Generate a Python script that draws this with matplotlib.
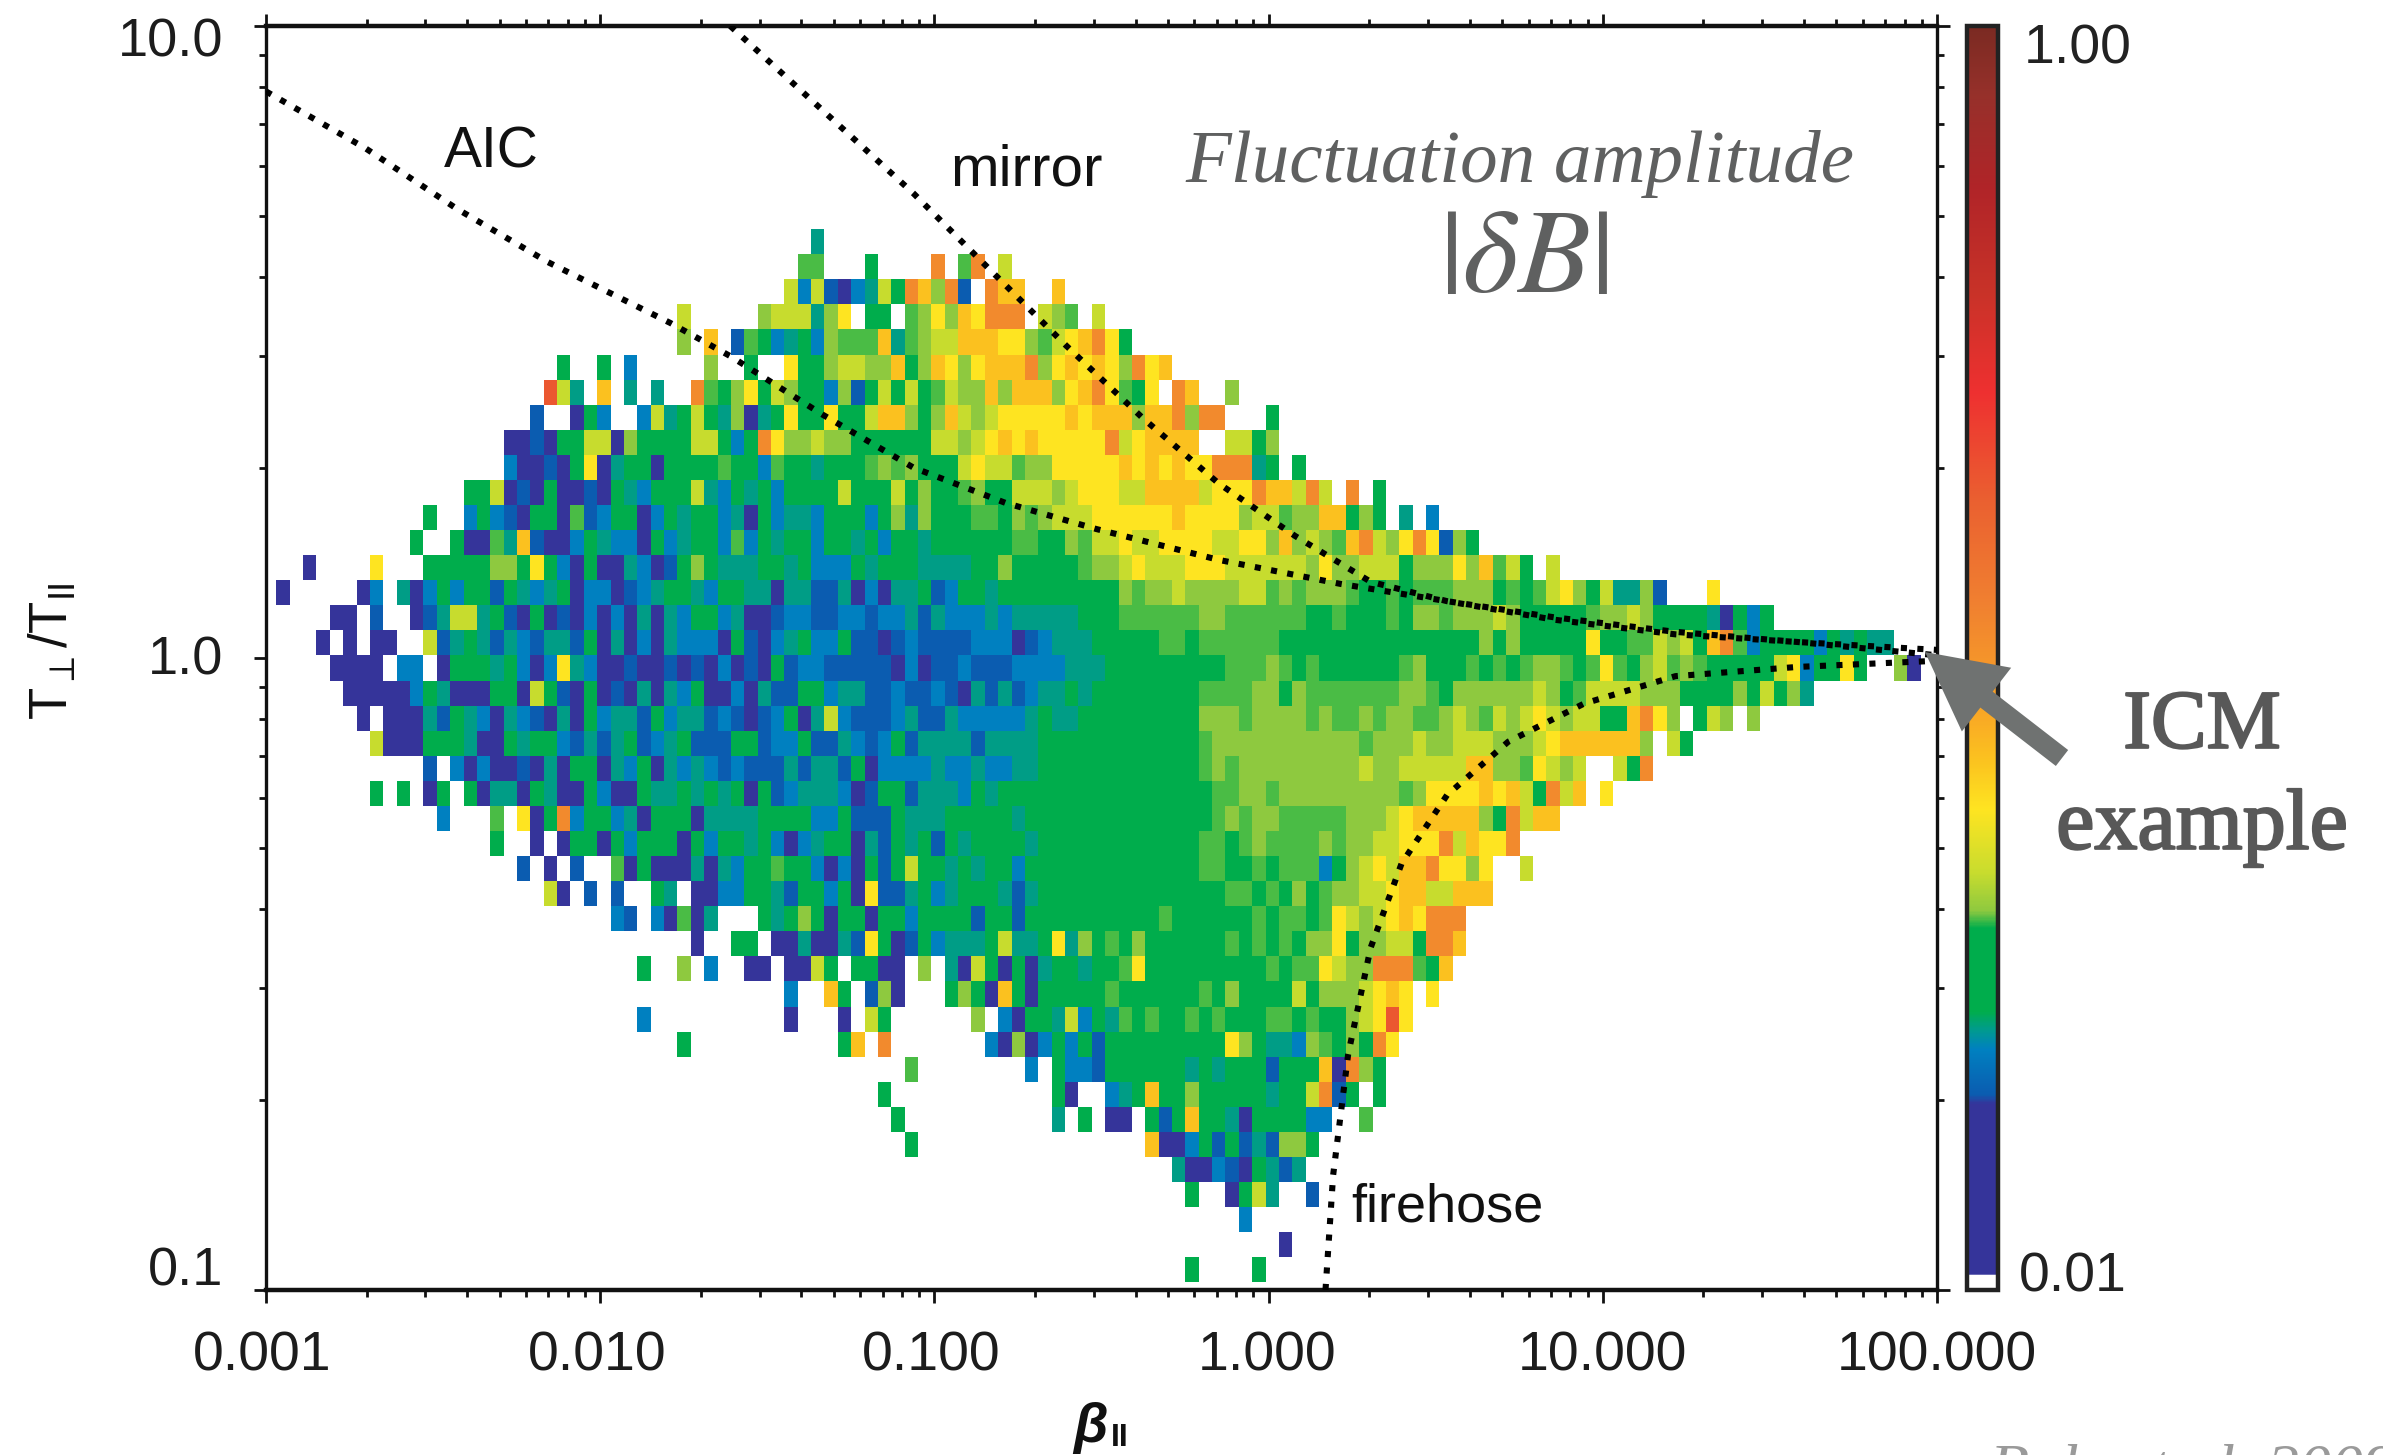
import numpy as np
import matplotlib
matplotlib.use("Agg")
import matplotlib.pyplot as plt
import matplotlib.patheffects as pe
from matplotlib.colors import LinearSegmentedColormap, LogNorm
from matplotlib.transforms import ScaledTranslation
from matplotlib.ticker import FixedLocator, NullFormatter

W, H = 2383, 1455
plt.rcParams['font.family'] = ['Liberation Sans', 'DejaVu Sans']
plt.rcParams['mathtext.fontset'] = 'custom'
plt.rcParams['mathtext.rm'] = 'Liberation Sans'
plt.rcParams['mathtext.it'] = 'Liberation Sans:italic'
plt.rcParams['mathtext.bf'] = 'Liberation Sans:bold'

# Colour scale: (fraction of bar height, colour)
CBAR_STOPS = [(0.0, '#ffffff'), (0.011, '#ffffff'), (0.012, '#35349a'), (0.147, '#35349a'),
              (0.154, '#0b5cb0'), (0.19, '#0080c0'), (0.205, '#009a90'), (0.22, '#00ad4c'),
              (0.286, '#00ad4c'), (0.30, '#8ec93f'), (0.33, '#c8dc2e'), (0.38, '#fee421'),
              (0.418, '#fbc31f'), (0.455, '#f9a825'), (0.543, '#f08030'), (0.624, '#ea6030'),
              (0.71, '#ee3030'), (0.79, '#c83228'), (0.873, '#b02428'), (0.946, '#96302a'),
              (1.0, '#7a2a22')]

# Cell amplitude classes, by their position on the colour bar
LEVEL_CODES = 'dbctgmlhyaor'
LEVEL_FRACTIONS = [0.08, 0.155, 0.19, 0.208, 0.25, 0.293, 0.30, 0.33, 0.38, 0.42, 0.52, 0.64]

# Rows counted from the top of the panel; each entry is (first column, cell classes)
CELLS_BY_ROW = {
    8: [(41, "t")],
    9: [(40, "mm"), (45, "g"), (50, "o"), (52, "mo"), (55, "h")],
    10: [(39, "hchbd cthgo alob"), (54, "oaa"), (59, "a")],
    11: [(31, "h"), (37, "lhhhtly"), (45, "gg"), (48, "mlylayooo"), (58, "hlm"), (62, "h")],
    12: [(31, "l"), (33, "a"), (35, "bmgct gclmm matml hhaaa yylmh yaoyg")],
    13: [(22, "g"), (25, "g"), (27, "c"), (33, "l"), (36, "g"), (39, "yggl hhlla glayl yaaao lyaya yloya")],
    14: [(21, "rht"), (25, "a"), (27, "t"), (29, "t"), (32, "omgly ghlgg clbgh ghgmh llala aalya oymgy"), (68, "oa"), (72, "l")],
    15: [(20, "b"), (23, "dgc"), (28, "chtgh gtldt gyggy gghaa lglah lhyyy yyaya aalaa olo o"), (75, "g")],
    16: [(18, "ddbdg ghhdl ggggh hgcgo yllhl lgggg gghhl hyaya yyyyy ohyaa aa"), (72, "hhgl")],
    17: [(18, "cddbd gydtg gdggg gmggc mggtg ggmlm lgggh yhhml lyyyy yayay ayyoo otg"), (77, "g")],
    18: [(15, "gghdb dgddb dgtcg gghtc gtgcg gggh"), (44, "ggghg lggml gghhh lhyyy hhaaa ahyyy oaahoh"), (81, "o"), (83, "g")],
    19: [(12, "g"), (15, "cgcbd ggdmb cggdc gtggc tdgc"), (39, "ttcgg gcglt lgggm mglml hhhyy yyyya yyyyl hhml"),
         (78, "laaglg"), (85, "t"), (87, "c")],
    20: [(11, "g"), (14, "gddmt abddc gtccd gctgg cmcgt"), (39, "ggcgg tgcgg tgggg ggmmg glmhh yhhyy yyhhy ylal"),
         (78, "hlmao hlyoy blg")],
    21: [(3, "d"), (8, "y"), (12, "ggggg llgyg cdgdd tcdbg lgttt gg"), (39, "tgccc gtggg ttttg glggg ggmll hyhhh yyyhh hhhh"),
         (78, "lyllh hhgll lylam hg"), (96, "h")],
    22: [(1, "d"), (7, "dc"), (10, "tdcgc ggbgt ctgdc cdbct ggtcg gttd"), (39, "ttbbt dcdtt gbcgg tgggg ggggg lmllh llllh hmlm"),
         (78, "lllmg gmgmm mlllg mgmhy lghtt lb"), (108, "y")],
    23: [(5, "dd"), (8, "b"), (11, "dbthh tgbdg dbdcd cdtdt cggct ddb"), (39, "ccbbc cbcct btccc tcttt ttggg mmmmm mllmm mmmm"),
         (78, "ggmgg gmgll mlllh lgggg gmllh lgggg tdgcg")],
    24: [(4, "d"), (6, "d"), (8, "dd"), (12, "hbtgt btcbt tbgdt dcdtc ccdgb dc"), (39, "tgccg bbdbc bbbbc ccdbc tttgg gggmm gmmmm mmgg"),
         (78, "ggggg ggggg ggglg lgggg gyggm mhlhg aomcg gggcg tgtt")],
    25: [(5, "dddd"), (10, "cc"), (13, "dgggt gcdcy tcddb ddbdb dcdbd g"), (39, "bccbb bbbdc dbbcb bbccc ctttg ggggg gggmm mlmg"),
         (78, "mgggg ggmlg ggmgm gmllm gmymg lhmlm ggggg hycgg yg"), (122, "ld")],
    26: [(6, "ddddd cgtdd dggdh gbdgd bdtdt cgddc dtb"), (39, "bggct tbbcb bcbdt btbct tgtgg ggggg gmmmm llgl"),
         (78, "mmmmm mmllm gllll llhlg mhhhh lllgg gglgh glt")],
    27: [(7, "d"), (9, "dddtb gtcdt cbdtd gcttb gcttb cbdbc"), (39, "gdthc bbbct bbtcc ccctg ttggg ggggg glllm llll"),
         (78, "mlmml mllmm lhlmh lhyhl hhgga oyl"), (107, "ghl"), (111, "l")],
    28: [(8, "hdddg ggtdd gtggc btbtg bctgb bbggb c"), (39, "cgbbt cbcgb ttttb ttttg ggggg ggggg gmlll llll"),
         (78, "llllm lllhl lhhhl llhya aaaaa l"), (105, "hg")],
    29: [(12, "b"), (14, "cdcdd bdtdg gdtcg dtctc bcbbb"), (39, "tbttb gdccc ctcct ccttg ggggg ggggg gmlml llll"),
         (78, "llllh llhhh hhaal lmyhl h"), (101, "hgo")],
    30: [(8, "g"), (10, "g"), (12, "dg"), (15, "gdttd gtddg cddgt tgtgt gdgb"), (39, "ctttc dbggb tttcg tgggg ggggg ggggg ggmml lmll"),
         (78, "lllll llmly yyyay ahgoh a"), (100, "y")],
    31: [(13, "c"), (17, "m"), (19, "ydgoc ggctd gggdt tttgg"), (39, "ggccg bbbgt ttggg ggtgg ggggg ggggg ggmlm llmm"),
         (78, "mmmll lhyaa aaalg ohaa")],
    32: [(17, "g"), (20, "d"), (22, "dggdg cgggd gcggt gc"), (39, "dctgg dtbgt gbgtg gggtg ggggg ggggg gmmgm lmmm"),
         (78, "mlmll hhyyy ohayy o")],
    33: [(19, "b"), (21, "d"), (23, "b"), (26, "mdgdd dtdtc ggm"), (39, "ggcdc dgbgh ggtgt ggcgg ggggg ggggg gmmgg mgmm"),
         (78, "mcglh yhaao yyly"), (94, "h")],
    34: [(21, "hd"), (24, "b"), (26, "b"), (29, "gt"), (32, "ddccg gt"), (39, "bggcg dybbt gctgg gtbtg ggggg ggggg gggmm gmgl"),
         (78, "gmllh hyaah haaa")],
    35: [(26, "cb"), (29, "cdmdt"), (37, "gt"), (39, "glgdg gdggc ggggb ggbgg ggggg gggmg ggggg mgmm"),
         (78, "gmyhl hyayo oo")],
    36: [(32, "d"), (35, "gg"), (38, "d"), (39, "dtddt bygdb gcttt ghttg ytlgm glggg gggmg mgmg"),
         (78, "llygl lhhgo oa")],
    37: [(28, "g"), (31, "l"), (33, "c"), (36, "dd"), (39, "ddhg"), (44, "ggdd"), (49, "l"), (51, "tdhgd gdtgg tggmy ggggg ggggm gml"),
         (78, "myhll ooomg a")],
    38: [(39, "c"), (42, "ag"), (45, "bld"), (51, "glgda gdggg ggmgg ggggm glggg gh"), (78, "glllh yay"), (87, "y")],
    39: [(28, "c"), (39, "d"), (43, "d"), (45, "hg"), (53, "l"), (55, "cdggt hcgtm gmggm gmggg mmg"), (78, "mgglh yry")],
    40: [(31, "g"), (43, "ga"), (46, "o"), (54, "cdldc gcgbg ggggg gggg"), (72, "ylgtt clmgl goy")],
    41: [(48, "m"), (57, "c"), (59, "gccb"), (63, "ggggg gtgtg ggbgg gadol g")],
    42: [(46, "g"), (59, "gd"), (63, "ctgag glggg ggtgg hobg"), (83, "g")],
    43: [(47, "g"), (59, "t"), (61, "g"), (63, "dd"), (66, "gbgag gtdgg ggcc"), (82, "m")],
    44: [(48, "g"), (66, "addcg bgbtb llg")],
    45: [(68, "tddcb dgtbt")],
    46: [(69, "g"), (72, "dght"), (78, "b")],
    47: [(73, "c")],
    48: [(76, "d")],
    49: [(69, "g"), (74, "g")],
}

AIC_BETA = [0.001, 0.00198, 0.00372, 0.00698, 0.0162, 0.0246, 0.0461, 0.0867, 0.163, 0.305, 0.708, 1.64, 3.42, 7.13, 16.5, 38.3, 100]
AIC_RATIO = [7.88, 6.41, 5.14, 4.23, 3.39, 3.0, 2.43, 2.0, 1.76, 1.60, 1.43, 1.31, 1.23, 1.16, 1.10, 1.06, 1.01]
MIRROR_BETA = [0.0245, 0.0461, 0.0867, 0.147, 0.248, 0.419, 0.708, 1.20, 2.02, 3.42, 7.13, 16.5, 38.3, 100]
MIRROR_RATIO = [10.0, 7.37, 5.43, 4.11, 3.12, 2.40, 1.89, 1.56, 1.32, 1.23, 1.15, 1.09, 1.06, 1.03]
FIREHOSE_BETA = [1.48, 1.56, 1.73, 2.02, 2.50, 3.42, 5.21, 8.79, 16.5, 38.3, 100]
FIREHOSE_RATIO = [0.1, 0.152, 0.236, 0.348, 0.473, 0.607, 0.737, 0.847, 0.936, 0.968, 0.99]

XTICKS = [0.001, 0.01, 0.1, 1, 10, 100]
XTICK_LABELS = ['0.001', '0.010', '0.100', '1.000', '10.000', '100.000']
YTICKS = [0.1, 1, 10]
YTICK_LABELS = ['0.1', '1.0', '10.0']
N_COLS, N_ROWS = 125, 50

amp = {c: 10 ** (-2 + 2 * f) for c, f in zip(LEVEL_CODES, LEVEL_FRACTIONS)}
grid = np.full((N_ROWS, N_COLS), np.nan)
for row, segments in CELLS_BY_ROW.items():
    for start, chars in segments:
        for off, ch in enumerate(chars.replace(' ', '')):
            if ch != '.' and start + off < N_COLS:
                grid[row, start + off] = amp[ch]

fig = plt.figure(figsize=(W / 100, H / 100), dpi=100, facecolor='white')


def box(x0, y0, x1, y1):
    return [x0 / W, 1 - y1 / H, (x1 - x0) / W, (y1 - y0) / H]


ax = fig.add_axes(box(266, 26, 1937, 1290))
ax.set_zorder(3)
cmap = LinearSegmentedColormap.from_list('dB', CBAR_STOPS, N=1024)
cmap.set_bad('white')
norm = LogNorm(0.01, 1.0)
x_edges = np.logspace(-3.009, -3.009 + 0.04 * N_COLS, N_COLS + 1)
y_edges = np.logspace(0.996, 0.996 - 0.03968 * N_ROWS, N_ROWS + 1)
mesh = ax.pcolormesh(x_edges, y_edges, np.ma.masked_invalid(grid), cmap=cmap, norm=norm,
                     shading='flat', antialiased=False, linewidth=0)
ax.set_xscale('log')
ax.set_yscale('log')
ax.set_xlim(0.001, 100)
ax.set_ylim(0.1, 10)

dots = dict(color='black', lw=4.4, linestyle=(0, (1.0, 1.7)), dash_capstyle='butt', clip_on=True, zorder=5)
ax.plot(AIC_BETA, AIC_RATIO, **dots)
ax.plot(MIRROR_BETA, MIRROR_RATIO, **dots)
ax.plot(FIREHOSE_BETA, FIREHOSE_RATIO, **dots)

for s in ax.spines.values():
    s.set_linewidth(2.4)
    s.set_color('#111111')
ax.spines['bottom'].set_linewidth(3.2)
ax.spines['top'].set_linewidth(3.2)
ax.tick_params(which='both', direction='out', top=True, right=True, color='#111111', labelcolor='#1c1c1c')
ax.tick_params(which='major', length=9, width=2)
ax.tick_params(which='minor', length=5, width=2)
ax.set_xticks(XTICKS, XTICK_LABELS, fontsize=40)
ax.set_yticks(YTICKS, YTICK_LABELS, fontsize=39)
minor_x = [m * 10.0 ** e for e in range(-3, 2) for m in range(2, 10)]
minor_y = [m * 10.0 ** e for e in range(-1, 1) for m in range(2, 10)]
ax.xaxis.set_minor_locator(FixedLocator(minor_x))
ax.yaxis.set_minor_locator(FixedLocator(minor_y))
ax.xaxis.set_minor_formatter(NullFormatter())
ax.yaxis.set_minor_formatter(NullFormatter())
ax.tick_params(axis='x', which='major', pad=20)
ax.tick_params(axis='y', which='major', pad=22)
for lab, dy in zip(ax.get_yticklabels(), [17, 2, -8]):
    lab.set_transform(lab.get_transform() + ScaledTranslation(0, dy / 72, fig.dpi_scale_trans))
for lab, dx in zip(ax.get_xticklabels(), [-3, -2, -2, -1, 0, 0]):
    lab.set_transform(lab.get_transform() + ScaledTranslation(dx / 72, 0, fig.dpi_scale_trans))


def ftext(x, y, s, **kw):
    kw.setdefault('ha', 'center')
    kw.setdefault('va', 'center')
    return fig.text(x / W, 1 - y / H, s, **kw)


# Colour bar
cax = fig.add_axes(box(1967, 26, 1998, 1290))
cb = fig.colorbar(mesh, cax=cax)
cb.set_ticks([])
cb.minorticks_off()
cb.outline.set_linewidth(3.2)
cb.outline.set_edgecolor('#222222')
ftext(2078, 49, '1.00', fontsize=40, color='#222222')
ftext(2073, 1277, '0.01', fontsize=40, color='#222222')

# Labels inside and around the panel
ftext(491, 153, 'AIC', fontsize=41, color='#111111')
ftext(1026, 170, 'mirror', fontsize=42, color='#111111')
ftext(1447, 1207, 'firehose', fontsize=39, color='#111111')
ftext(53, 651, r'T$_{\perp}$/T$_{\mathrm{II}}$', fontsize=38, color='#111111', rotation=90)
ftext(1090, 1428, '\u03b2', fontsize=40, color='#111111', fontweight='bold', fontstyle='italic')
ftext(1120, 1438, 'II', fontsize=23, color='#111111', fontweight='bold')

GREY = '#5f6060'
ftext(1520, 164, 'Fluctuation amplitude', fontsize=54, color=GREY, family=['Liberation Serif'], fontstyle='italic')
ftext(1524, 262, r'$|\delta B|$', fontsize=86, color=GREY, math_fontfamily='stix')
semi = [pe.withStroke(linewidth=1.6, foreground='#585858')]
ftext(2202, 728, 'ICM', fontsize=60, color='#585858', family=['Liberation Serif'], path_effects=semi)
ftext(2202, 828, 'example', fontsize=62, color='#585858', family=['Liberation Serif'], path_effects=semi)
ftext(1990, 1443, 'Bale et al. 2009', fontsize=46, color='#9a9a9a', family=['Liberation Serif'],
      fontstyle='italic', ha='left', va='top')

# Pointer to the ICM example
fig_pt = lambda x, y: (x / W, 1 - y / H)
ax.annotate('', xy=fig_pt(1925, 652), xytext=fig_pt(2062, 758), xycoords='figure fraction',
            textcoords='figure fraction', annotation_clip=False,
            arrowprops=dict(facecolor='#6f7271', edgecolor='none', width=14.5, headwidth=58,
                            headlength=56, shrink=0), zorder=10)

fig.savefig('out.png', dpi=100, facecolor='white')
